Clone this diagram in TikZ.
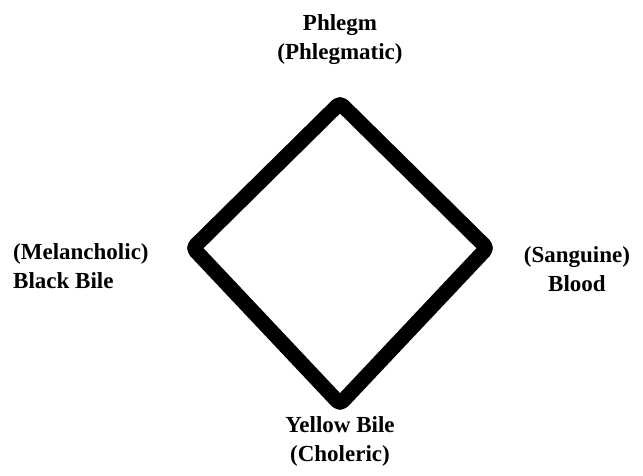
\documentclass[tikz,border=0pt]{standalone}
\usepackage{fontspec}
\setmainfont{Liberation Serif}
\usetikzlibrary{positioning}

\begin{document}
\begin{tikzpicture}[x=1pt,y=-1pt,font=\bfseries\fontsize{23}{29}\selectfont]
\tikzstyle{hum}=[align=center,inner sep=0pt]
\useasboundingbox (0,0) rectangle (643,475);
\coordinate (t) at (340,103);
\coordinate (r) at (487,248);
\coordinate (b) at (340,404);
\coordinate (l) at (193,248);
\draw[line width=15pt,line join=round,rounded corners=4pt] (t) -- (r) -- (b) -- (l) -- cycle;
\node[hum] (phlegm) at (340,40) {Phlegm\\(Phlegmatic)};
\node[hum,align=left,anchor=west] (black) at (13,266) {(Melancholic)\\Black Bile};
\node[hum] (blood) at (577,269) {(Sanguine)\\Blood};
\node[hum] (yellow) at (340,441) {Yellow Bile\\(Choleric)};
\end{tikzpicture}
\end{document}
